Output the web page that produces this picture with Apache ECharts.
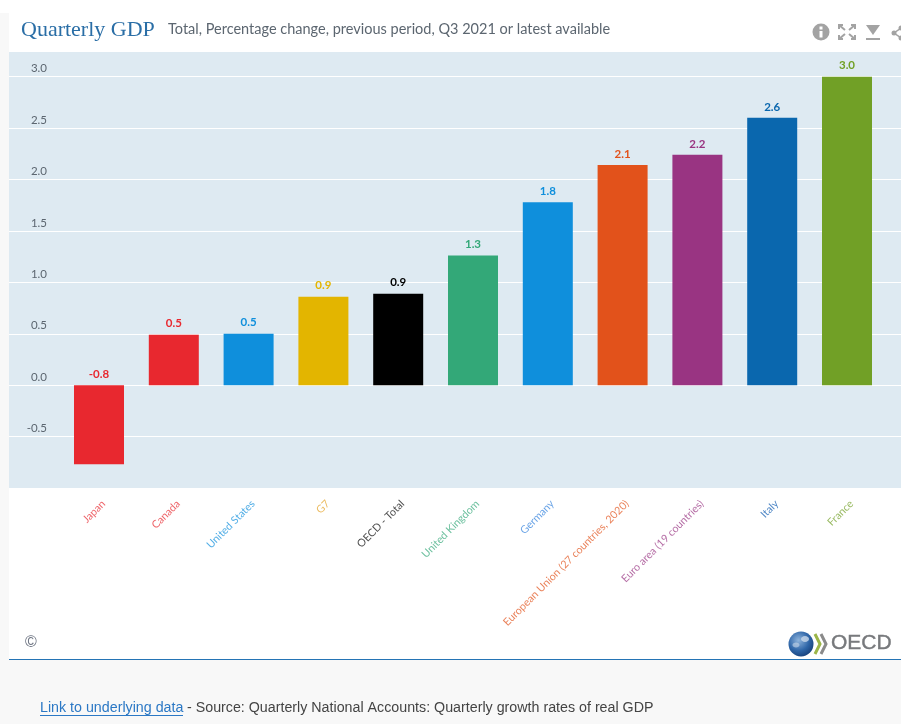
<!DOCTYPE html>
<html><head><meta charset="utf-8">
<style>html,body{margin:0;padding:0;background:#fff}#c{width:901px;height:724px}</style>
<script src="https://cdn.jsdelivr.net/npm/echarts@6/dist/echarts.min.js"></script>
</head><body><div id="c"></div>
<script>
const categories = ["Japan","Canada","United States","G7","OECD - Total","United Kingdom","Germany","European Union (27 countries, 2020)","Euro area (19 countries)","Italy","France"];
const growth = [-0.77,0.49,0.5,0.86,0.89,1.26,1.78,2.14,2.24,2.6,3.0];
const barColors = ["#e8282f","#e8282f","#0f8fdc","#e3b500","#000000","#33a878","#0f8fdc","#e2521b","#993482","#0a67ae","#71a026"];
const axisColors = ["#e8282f","#e8282f","#0f8fdc","#e3a020","#000000","#33a878","#2f80dc","#e2521b","#993482","#0a57ae","#71a026"];
const bodyFont = 'Lato, "Open Sans", sans-serif';
const yMin = -1, yMax = 3.24;
const gridV = {top:52, height:436};
const chart = echarts.init(document.getElementById('c'), null, {renderer:'canvas'});
const grey = '#a3a3a3';
const arrow = (pts) => ({type:'polyline', shape:{points:pts}, style:{stroke:grey,fill:'none',lineWidth:2}});
chart.setOption({
  animation:false,
  backgroundColor:'#ffffff',
  grid:[
    {left:9, width:892, ...gridV, show:true, backgroundColor:'#deeaf2', borderWidth:0},
    {left:61.6, width:822.8, ...gridV, show:false},
    {left:66.1, width:822.8, ...gridV, show:false}
  ],
  xAxis:[
    {gridIndex:0, type:'value', min:0, max:1, show:false},
    {gridIndex:1, type:'category', data:categories, position:'bottom',
      axisLine:{show:false,onZero:false}, axisTick:{show:false}, axisLabel:{show:false}},
    {gridIndex:2, type:'category', data:categories, position:'bottom',
      axisLine:{show:false,onZero:false}, axisTick:{show:false},
      axisLabel:{interval:0, rotate:45, margin:14, fontFamily:bodyFont, fontSize:10.7, opacity:0.72,
        color:(v,i)=>axisColors[i]}}
  ],
  yAxis:[
    {gridIndex:0, type:'value', min:yMin, max:yMax, interval:0.5,
      axisLine:{show:false}, axisTick:{show:false},
      splitLine:{show:true, showMinLine:false, showMaxLine:false, lineStyle:{color:'#ffffff',width:1}},
      axisLabel:{inside:true, showMinLabel:false, showMaxLabel:false, margin:38, align:'right', verticalAlign:'bottom',
        lineHeight:16, color:'#5c6670', fontFamily:bodyFont, fontSize:11.5, formatter:v=>v.toFixed(1)}},
    {gridIndex:1, type:'value', min:yMin, max:yMax, show:false},
    {gridIndex:2, type:'value', min:yMin, max:yMax, show:false}
  ],
  series:[{
    type:'bar', xAxisIndex:1, yAxisIndex:1, barWidth:50,
    data:growth.map((v,i)=>({value:v, itemStyle:{color:barColors[i]},
      label:{color:barColors[i]}})),
    label:{show:true, position:'top', distance:5, fontFamily:bodyFont, fontSize:11.5, fontWeight:'bold',
      formatter:p=>p.value.toFixed(1)}
  }],
  graphic:[
    {type:'rect', silent:true, z:-1, shape:{x:0,y:0,width:9,height:724}, style:{fill:'#f8f8f8'}},
    {type:'rect', silent:true, z:-1, shape:{x:0,y:0,width:901,height:13}, style:{fill:'#ffffff'}},
    {type:'rect', silent:true, z:-1, shape:{x:0,y:660,width:901,height:64}, style:{fill:'#f8f8f8'}},
    {type:'rect', silent:true, shape:{x:9,y:659,width:892,height:1}, style:{fill:'#2474b5'}},
    {type:'text', x:21, y:19, style:{text:'Quarterly GDP', fill:'#2a6ea6', font:'22px "Liberation Serif"'}},
    {type:'text', x:168, y:22, style:{text:'Total, Percentage change, previous period, Q3 2021 or latest available', fill:'#5c6670', font:'14.5px '+bodyFont}},
    {type:'text', x:25, y:635, style:{text:'©', fill:'#6b7280', font:'16px "Liberation Sans"'}},
    // toolbar icons
    {type:'circle', shape:{cx:821,cy:32,r:8.5}, style:{fill:grey}},
    {type:'rect', shape:{x:819.5,y:31,width:3,height:6.5}, style:{fill:'#fff'}},
    {type:'rect', shape:{x:819.5,y:26.5,width:3,height:3}, style:{fill:'#fff'}},
    arrow([[839,29],[839,25],[843,25]]), arrow([[839,25],[845,30]]),
    arrow([[851,25],[855,25],[855,29]]), arrow([[855,25],[849,30]]),
    arrow([[839,35],[839,39],[843,39]]), arrow([[839,39],[845,34]]),
    arrow([[851,39],[855,39],[855,35]]), arrow([[855,39],[849,34]]),
    {type:'polygon', shape:{points:[[866,25],[880,25],[873,35]]}, style:{fill:grey}},
    {type:'rect', shape:{x:866,y:38,width:14,height:2}, style:{fill:grey}},
    {type:'circle', shape:{cx:894,cy:33,r:2.5}, style:{fill:grey}},
    {type:'circle', shape:{cx:901,cy:28,r:2.5}, style:{fill:grey}},
    {type:'circle', shape:{cx:901,cy:38,r:2.5}, style:{fill:grey}},
    {type:'polyline', shape:{points:[[901,28],[894,33],[901,38]]}, style:{stroke:grey,fill:'none',lineWidth:1.5}},
    // OECD logo
    {type:'circle', shape:{cx:801,cy:644,r:12.5}, style:{fill:new echarts.graphic.RadialGradient(0.4,0.35,0.7,[{offset:0,color:'#8fb4dc'},{offset:0.6,color:'#2f66a8'},{offset:1,color:'#173f78'}])}},
    {type:'ellipse', shape:{cx:805,cy:639,rx:4,ry:3}, style:{fill:'#c9d8ea',opacity:0.8}},
    {type:'ellipse', shape:{cx:796,cy:645,rx:3.5,ry:2.5}, style:{fill:'#c9d8ea',opacity:0.6}},
    {type:'polyline', shape:{points:[[815,634],[820,644],[815,654]]}, style:{stroke:'#9bb548',fill:'none',lineWidth:3}},
    {type:'polyline', shape:{points:[[821,634],[826,644],[821,654]]}, style:{stroke:'#8a8a8a',fill:'none',lineWidth:3}},
    {type:'text', x:831, y:633, style:{text:'OECD', fill:'#77797c', stroke:'#77797c', lineWidth:0.4, font:'21px "Liberation Sans"'}},
    // footer
    {type:'text', x:40, y:701, style:{text:'Link to underlying data', fill:'#2b78c5', font:'14.25px "Liberation Sans"'}},
    {type:'rect', shape:{x:40,y:715,width:143,height:1}, style:{fill:'#2b78c5'}},
    {type:'text', x:187, y:701, style:{text:'- Source: Quarterly National Accounts: Quarterly growth rates of real GDP', fill:'#444444', font:'14.25px "Liberation Sans"'}}
  ]
});
</script></body></html>
